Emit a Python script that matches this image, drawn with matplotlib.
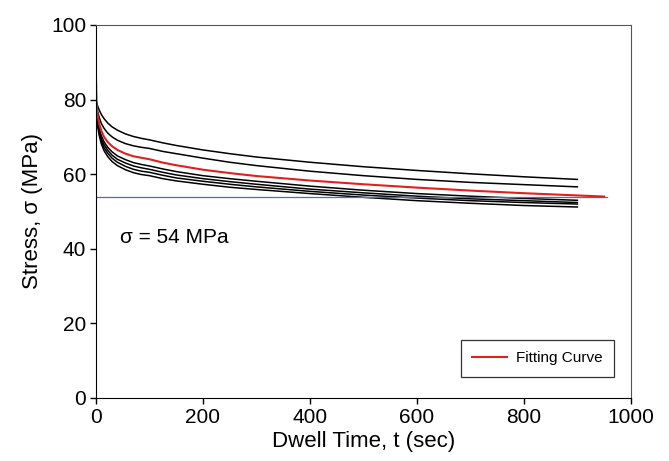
import matplotlib
matplotlib.use("Agg")
import matplotlib.pyplot as plt

plt.rcParams['font.family'] = ['Liberation Sans', 'DejaVu Sans']

t = [0, 1, 3, 6, 10, 15, 22, 30, 40, 55, 70, 85, 100, 125, 150, 200, 250, 300,
     400, 500, 600, 700, 800, 900]
# first curve begins with a load peak at t = 0
t1 = [0] + t
c1 = [90.5, 80, 79.3, 78.3, 77.2, 76.0, 74.9, 73.7, 72.7, 71.8, 70.8, 70.1, 69.6, 69.2,
      68.4, 67.7, 66.5, 65.5, 64.6, 63.2, 62.0, 61.0, 60.1, 59.3, 58.6]
c2 = [80, 78.5, 76.8, 75.2, 73.6, 72.3, 71.0, 70.0, 69.1, 68.2, 67.6, 67.2, 66.9,
      66.1, 65.5, 64.3, 63.2, 62.3, 60.8, 59.6, 58.6, 57.8, 57.2, 56.6]
c3 = [80, 77.5, 74.6, 72.3, 70.3, 68.7, 67.2, 66.0, 64.9, 63.9, 63.1, 62.6, 62.2,
      61.4, 60.7, 59.6, 58.8, 58.1, 56.8, 55.7, 54.8, 54.1, 53.5, 53.0]
c4 = [80, 77, 74, 71.6, 69.5, 67.9, 66.4, 65.1, 64.0, 63.0, 62.2, 61.7, 61.3,
      60.5, 59.8, 58.8, 58.0, 57.3, 56.0, 55.0, 54.1, 53.4, 52.9, 52.4]
c5 = [80, 76.6, 73.5, 71.0, 68.8, 67.1, 65.6, 64.3, 63.2, 62.1, 61.3, 60.8, 60.5,
      59.7, 59.0, 58.1, 57.3, 56.6, 55.4, 54.4, 53.6, 52.9, 52.4, 52.0]
c6 = [80, 76.2, 73.0, 70.4, 68.1, 66.3, 64.7, 63.4, 62.3, 61.2, 60.4, 59.9, 59.6,
      58.8, 58.2, 57.3, 56.5, 55.9, 54.8, 53.8, 52.9, 52.2, 51.6, 51.2]

t_fit = t + [950]
fit = [85.7, 79, 75.8, 73.5, 71.6, 70.0, 68.6, 67.5, 66.5, 65.5, 64.8, 64.4, 64.0,
       63.1, 62.4, 61.2, 60.3, 59.5, 58.3, 57.3, 56.4, 55.6, 54.9, 54.3, 54.0]

sigma_ref = 54
ref_t = [-5, 955]

fig = plt.figure(figsize=(6.69, 4.61), dpi=100)
ax = fig.add_axes([0.1435, 0.1367, 0.7995, 0.8091])

ax.plot(t1, c1, color='black', lw=1.1)
for c in [c2, c3, c4, c5, c6]:
    ax.plot(t, c, color='black', lw=1.1)
ax.plot(ref_t, [sigma_ref, sigma_ref], color='#4a6fb5', lw=0.9)
ax.plot(t_fit, fit, color='#e0201b', lw=1.5, label='Fitting Curve')

ax.text(45, 42.9, '\u03c3 = 54 MPa', fontsize=15, va='center', ha='left')

ax.set_xlim(0, 1000)
ax.set_ylim(0, 100)
ax.set_xticks([0, 200, 400, 600, 800, 1000])
ax.set_yticks([0, 20, 40, 60, 80, 100])
ax.tick_params(direction='out', labelsize=15, length=4, width=1, pad=3)
ax.set_xlabel('Dwell Time, t (sec)', fontsize=16, labelpad=3)
ax.set_ylabel('Stress, \u03c3 (MPa)', fontsize=16, labelpad=6)
for s in ['top', 'right']:
    ax.spines[s].set_color('#555555')

leg = ax.legend(loc='lower right', bbox_to_anchor=(0.968, 0.057), borderaxespad=0,
                fontsize=11, frameon=True, fancybox=False, edgecolor='black',
                handlelength=2.3, handletextpad=0.55, borderpad=0.75)
leg.get_frame().set_linewidth(0.9)

fig.savefig('out.png', dpi=100)
